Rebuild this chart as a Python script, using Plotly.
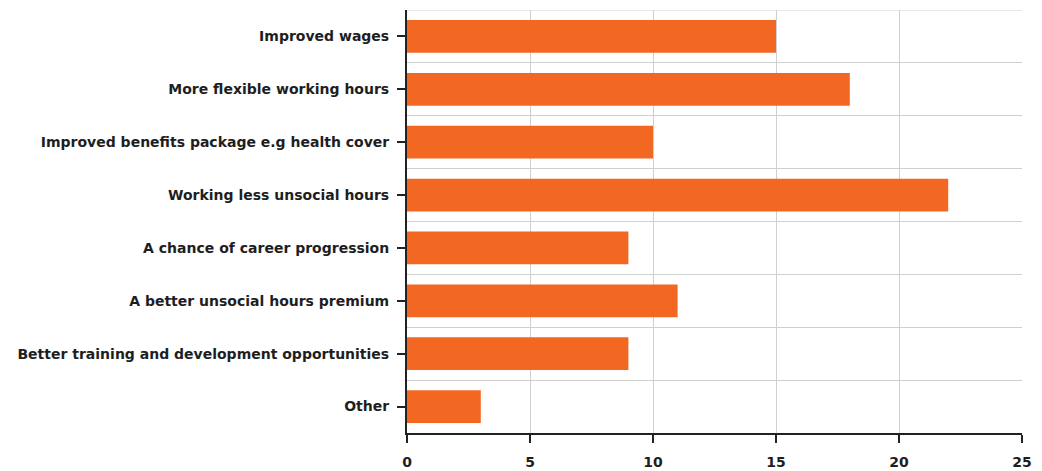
import plotly.graph_objects as go

categories = [
    "Improved wages",
    "More flexible working hours",
    "Improved benefits package e.g health cover",
    "Working less unsocial hours",
    "A chance of career progression",
    "A better unsocial hours premium",
    "Better training and development opportunities",
    "Other",
]
values = [15, 18, 10, 22, 9, 11, 9, 3]
x_ticks = [0, 5, 10, 15, 20, 25]

# top category drawn at the top
n = len(categories)
positions = [n - 1 - i for i in range(n)]

fig = go.Figure(
    go.Bar(
        x=values,
        y=positions,
        orientation="h",
        marker=dict(color="#F26722", line=dict(width=0)),
        width=0.62,
    )
)

font = dict(family="DejaVu Sans", size=14, color="#1e1e1e", weight="bold")
grid = "#cfcfcf"

fig.update_layout(
    width=1042,
    height=471,
    margin=dict(l=407, r=20, t=10, b=38),
    plot_bgcolor="white",
    paper_bgcolor="white",
    showlegend=False,
    font=font,
    xaxis=dict(
        range=[0, 25],
        tickvals=x_ticks,
        showgrid=True,
        gridcolor=grid,
        gridwidth=1,
        zeroline=False,
        showline=True,
        linecolor="#222222",
        linewidth=2,
        ticks="outside",
        ticklen=8,
        tickwidth=1.5,
        tickcolor="#222222",
        tickfont=font,
        ticklabelstandoff=7,
        automargin=False,
    ),
    yaxis=dict(
        range=[-0.5, n - 0.5],
        tickvals=positions,
        ticktext=categories,
        showgrid=False,
        zeroline=False,
        showline=True,
        linecolor="#222222",
        linewidth=2,
        ticks="outside",
        ticklen=8,
        tickwidth=1.5,
        tickcolor="#222222",
        tickfont=font,
        ticklabelstandoff=5,
        automargin=False,
        minor=dict(tick0=-0.5, dtick=1, showgrid=True, gridcolor=grid, gridwidth=1, ticks=""),
    ),
    shapes=[
        dict(type="line", xref="x", yref="y", x0=0, x1=25, y0=n - 0.5, y1=n - 0.5,
             line=dict(color=grid, width=1), layer="below"),
    ],
)

fig.write_html("out.html")
